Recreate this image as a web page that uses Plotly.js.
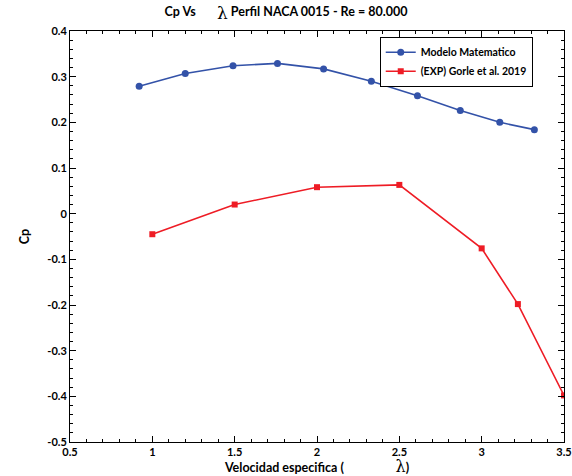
<!DOCTYPE html>
<html>
<head>
<meta charset="utf-8">
<script src="https://cdn.plot.ly/plotly-3.0.1.min.js"></script>
<style>html,body{margin:0;padding:0;background:#fff;}#chart{width:572px;height:476px;}</style>
</head>
<body>
<div id="chart"></div>
<script>
const modelX = [0.92, 1.20, 1.49, 1.76, 2.04, 2.33, 2.61, 2.87, 3.11, 3.32];
const modelCp = [0.279, 0.307, 0.324, 0.329, 0.317, 0.290, 0.258, 0.226, 0.200, 0.184];
const expX = [1.0, 1.5, 2.0, 2.5, 3.0, 3.22, 3.5];
const expCp = [-0.045, 0.020, 0.058, 0.063, -0.076, -0.198, -0.398];
const yTickVals = [0.4, 0.3, 0.2, 0.1, 0, -0.1, -0.2, -0.3, -0.4, -0.5];
const yTickText = ["0.4", "0.3", "0.2", "0.1", "0", "-0.1", "-0.2", "-0.3", "-0.4", "-0.5"];
const xTickVals = [0.5, 1, 1.5, 2, 2.5, 3, 3.5];
const xTickText = ["0.5", "1", "1.5", "2", "2.5", "3", "3.5"];

const FONT = "Lato, 'DejaVu Sans', sans-serif";
const LAM_SUB = "<sub><span style=\"font-family:'DejaVu Serif',serif;font-weight:normal;font-size:17px\">λ</span></sub>";
const LAM = "<span style=\"font-family:'DejaVu Serif',serif;font-weight:normal;font-size:16px\">λ</span>";

const traces = [
  {
    x: modelX, y: modelCp, name: "Modelo Matematico",
    mode: "lines+markers", type: "scatter",
    line: {color: "#3352A8", width: 1.6},
    marker: {symbol: "circle", size: 7, color: "#3352A8"}
  },
  {
    x: expX, y: expCp, name: "(EXP) Gorle et al. 2019",
    mode: "lines+markers", type: "scatter",
    line: {color: "#EE1C25", width: 1.6},
    marker: {symbol: "square", size: 6, color: "#EE1C25"}
  }
];

const axisCommon = {
  showline: true, linecolor: "#000", linewidth: 1,
  mirror: "allticks", ticks: "inside", ticklen: 6, tickcolor: "#000", tickwidth: 1,
  showgrid: false, zeroline: false,
  tickfont: {family: FONT, size: 11, color: "#000", weight: "bold"}
};

const layout = {
  width: 572, height: 476,
  margin: {l: 70, r: 8, t: 31, b: 34},
  paper_bgcolor: "#fff", plot_bgcolor: "#fff",
  font: {family: FONT, color: "#000"},
  title: {
    text: "Cp Vs       " + LAM_SUB + " Perfil NACA 0015 - Re = 80.000",
    font: {family: FONT, size: 12.5, color: "#000", weight: "bold"},
    x: 0.5, xanchor: "center", y: 0.975, yanchor: "middle"
  },
  xaxis: Object.assign({}, axisCommon, {
    range: [0.5, 3.5],
    tickmode: "array", tickvals: xTickVals, ticktext: xTickText,
    minor: {dtick: 0.1, ticks: "inside", ticklen: 3, tickcolor: "#000", tickwidth: 1},
    title: {text: "Velocidad especifica (                 " + LAM + ")",
            font: {family: FONT, size: 12.5, color: "#000", weight: "bold"}, standoff: 6}
  }),
  yaxis: Object.assign({}, axisCommon, {
    range: [-0.5, 0.4],
    tickmode: "array", tickvals: yTickVals, ticktext: yTickText,
    minor: {dtick: 0.02, ticks: "inside", ticklen: 3, tickcolor: "#000", tickwidth: 1},
    title: {text: "Cp", font: {family: FONT, size: 12.5, color: "#000", weight: "bold"}, standoff: 14}
  }),
  legend: {
    x: 0.627, y: 0.986, xanchor: "left", yanchor: "top",
    bgcolor: "#fff", bordercolor: "#000", borderwidth: 1,
    font: {family: FONT, size: 10.5, color: "#000", weight: "bold"},
    tracegroupgap: 0, itemwidth: 30
  },
  showlegend: true
};

Plotly.newPlot("chart", traces, layout, {displayModeBar: false, staticPlot: true});
</script>
</body>
</html>
